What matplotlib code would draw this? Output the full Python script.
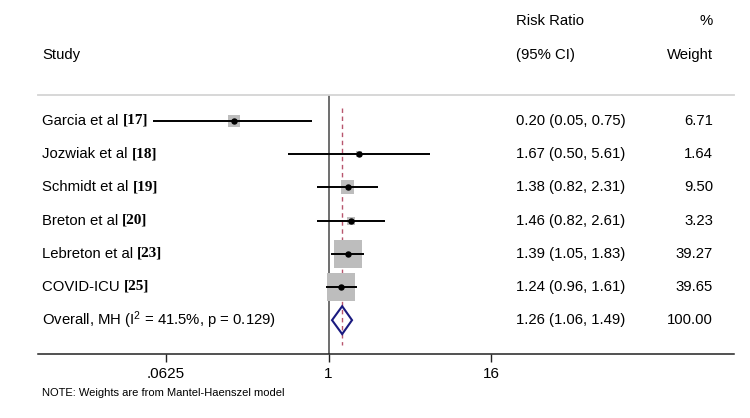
import matplotlib
matplotlib.use('Agg')
import matplotlib.pyplot as plt
import numpy as np
from matplotlib.transforms import blended_transform_factory
from matplotlib.patches import Polygon
from matplotlib.ticker import NullLocator

# ---------------- data ----------------
studies = ['Garcia et al', 'Jozwiak et al', 'Schmidt et al', 'Breton et al',
           'Lebreton et al', 'COVID-ICU']
refs = ['[17]', '[18]', '[19]', '[20]', '[23]', '[25]']
rr = [0.20, 1.67, 1.38, 1.46, 1.39, 1.24]
ci_lo = [0.05, 0.50, 0.82, 0.82, 1.05, 0.96]
ci_hi = [0.75, 5.61, 2.31, 2.61, 1.83, 1.61]
weights = [6.71, 1.64, 9.50, 3.23, 39.27, 39.65]
overall_label = 'Overall, MH ($\\mathregular{I^2}$ = 41.5%, p = 0.129)'
overall_rr = 1.26
overall_lo = 1.06
overall_hi = 1.49
overall_weight = 100.00
xticks = [0.0625, 1, 16]
xticklabels = ['.0625', '1', '16']

# ---------------- style ----------------
SANS = 'Liberation Sans'
SERIF = 'Liberation Serif'
plt.rcParams['font.family'] = [SANS, 'DejaVu Sans']
plt.rcParams['mathtext.fontset'] = 'custom'
plt.rcParams['mathtext.rm'] = SANS
FS = 10.7

W, H = 750, 418
fig = plt.figure(figsize=(W / 100, H / 100), dpi=100)

def fx(px):
    return px / W

def fy(py):
    return 1 - py / H

ax = fig.add_axes([fx(38), fy(354), fx(734) - fx(38), fy(95) - fy(354)])
ax.set_xscale('log', base=2)
ax.set_xlim(2 ** -7.14, 2 ** 9.96)
ax.set_ylim(7.02, -0.784)

for s in ['left', 'right']:
    ax.spines[s].set_visible(False)
ax.spines['top'].set_color('#d4d4d4')
ax.spines['top'].set_linewidth(1.3)
ax.spines['bottom'].set_color('#222222')
ax.spines['bottom'].set_linewidth(1.1)
ax.set_yticks([])
ax.set_xticks(xticks)
ax.set_xticklabels(xticklabels)
ax.xaxis.set_minor_locator(NullLocator())
ax.tick_params(axis='x', direction='out', length=5.5, width=1, labelsize=11,
               pad=4, color='#222222')

# reference line at 1
ax.axvline(1, color='#555555', lw=1.2, zorder=1)

# overall dashed line
n = len(studies)
ax.plot([overall_rr, overall_rr], [-0.39, n + 0.75], ls=(0, (3.2, 2.6)),
        color='#b8566e', lw=1.0, zorder=2)

# boxes
wmax = max(weights)
sizes = [(20.3 * np.sqrt(w / wmax)) ** 2 for w in weights]
rows = np.arange(n)
ax.scatter(rr, rows, s=sizes, marker='s', color='#bdbdbd', zorder=3, linewidths=0)
# CI lines
ax.hlines(rows, ci_lo, ci_hi, color='black', lw=1.4, zorder=4)
ax.plot(rr, rows, 'o', color='black', ms=3.6, zorder=5)

# overall diamond
yd = n
hh = 0.42
diamond = Polygon([(overall_lo, yd), (overall_rr, yd - hh), (overall_hi, yd),
                   (overall_rr, yd + hh)], closed=True, facecolor='none',
                  edgecolor='#1a1a80', lw=1.5, zorder=6)
ax.add_patch(diamond)

# text
tr = blended_transform_factory(fig.transFigure, ax.transData)
label_artists = []
for i, (name, ref) in enumerate(zip(studies, refs)):
    t = ax.text(fx(42), i, name + ' ', transform=tr, ha='left', va='center',
                fontsize=FS, clip_on=False)
    label_artists.append((t, ref, i))
    ax.text(fx(516), i, f'{rr[i]:.2f} ({ci_lo[i]:.2f}, {ci_hi[i]:.2f})',
            transform=tr, ha='left', va='center', fontsize=FS, clip_on=False)
    ax.text(fx(713), i, f'{weights[i]:.2f}', transform=tr, ha='right',
            va='center', fontsize=FS, clip_on=False)

ax.text(fx(42), n, overall_label, transform=tr, ha='left', va='center',
        fontsize=FS, clip_on=False)
ax.text(fx(516), n, f'{overall_rr:.2f} ({overall_lo:.2f}, {overall_hi:.2f})',
        transform=tr, ha='left', va='center', fontsize=FS, clip_on=False)
ax.text(fx(713), n, f'{overall_weight:.2f}', transform=tr, ha='right',
        va='center', fontsize=FS, clip_on=False)

# headers
fig.text(fx(516), fy(21), 'Risk Ratio', ha='left', va='center', fontsize=FS)
fig.text(fx(516), fy(55), '(95% CI)', ha='left', va='center', fontsize=FS)
fig.text(fx(42), fy(55), 'Study', ha='left', va='center', fontsize=FS)
fig.text(fx(713), fy(21), '%', ha='right', va='center', fontsize=FS)
fig.text(fx(713), fy(55), 'Weight', ha='right', va='center', fontsize=FS)

fig.text(fx(42), fy(393), 'NOTE: Weights are from Mantel-Haenszel model',
         ha='left', va='center', fontsize=8)

# bold serif reference numbers placed after the names
fig.canvas.draw()
renderer = fig.canvas.get_renderer()
inv = fig.transFigure.inverted()
for t, ref, i in label_artists:
    bb = t.get_window_extent(renderer)
    x_end = inv.transform((bb.x1, 0))[0]
    ax.text(x_end, i - 0.02, ref, transform=tr, ha='left', va='center',
            fontsize=11, fontfamily=SERIF, fontweight='bold', clip_on=False)

fig.savefig('out.png', dpi=100)
